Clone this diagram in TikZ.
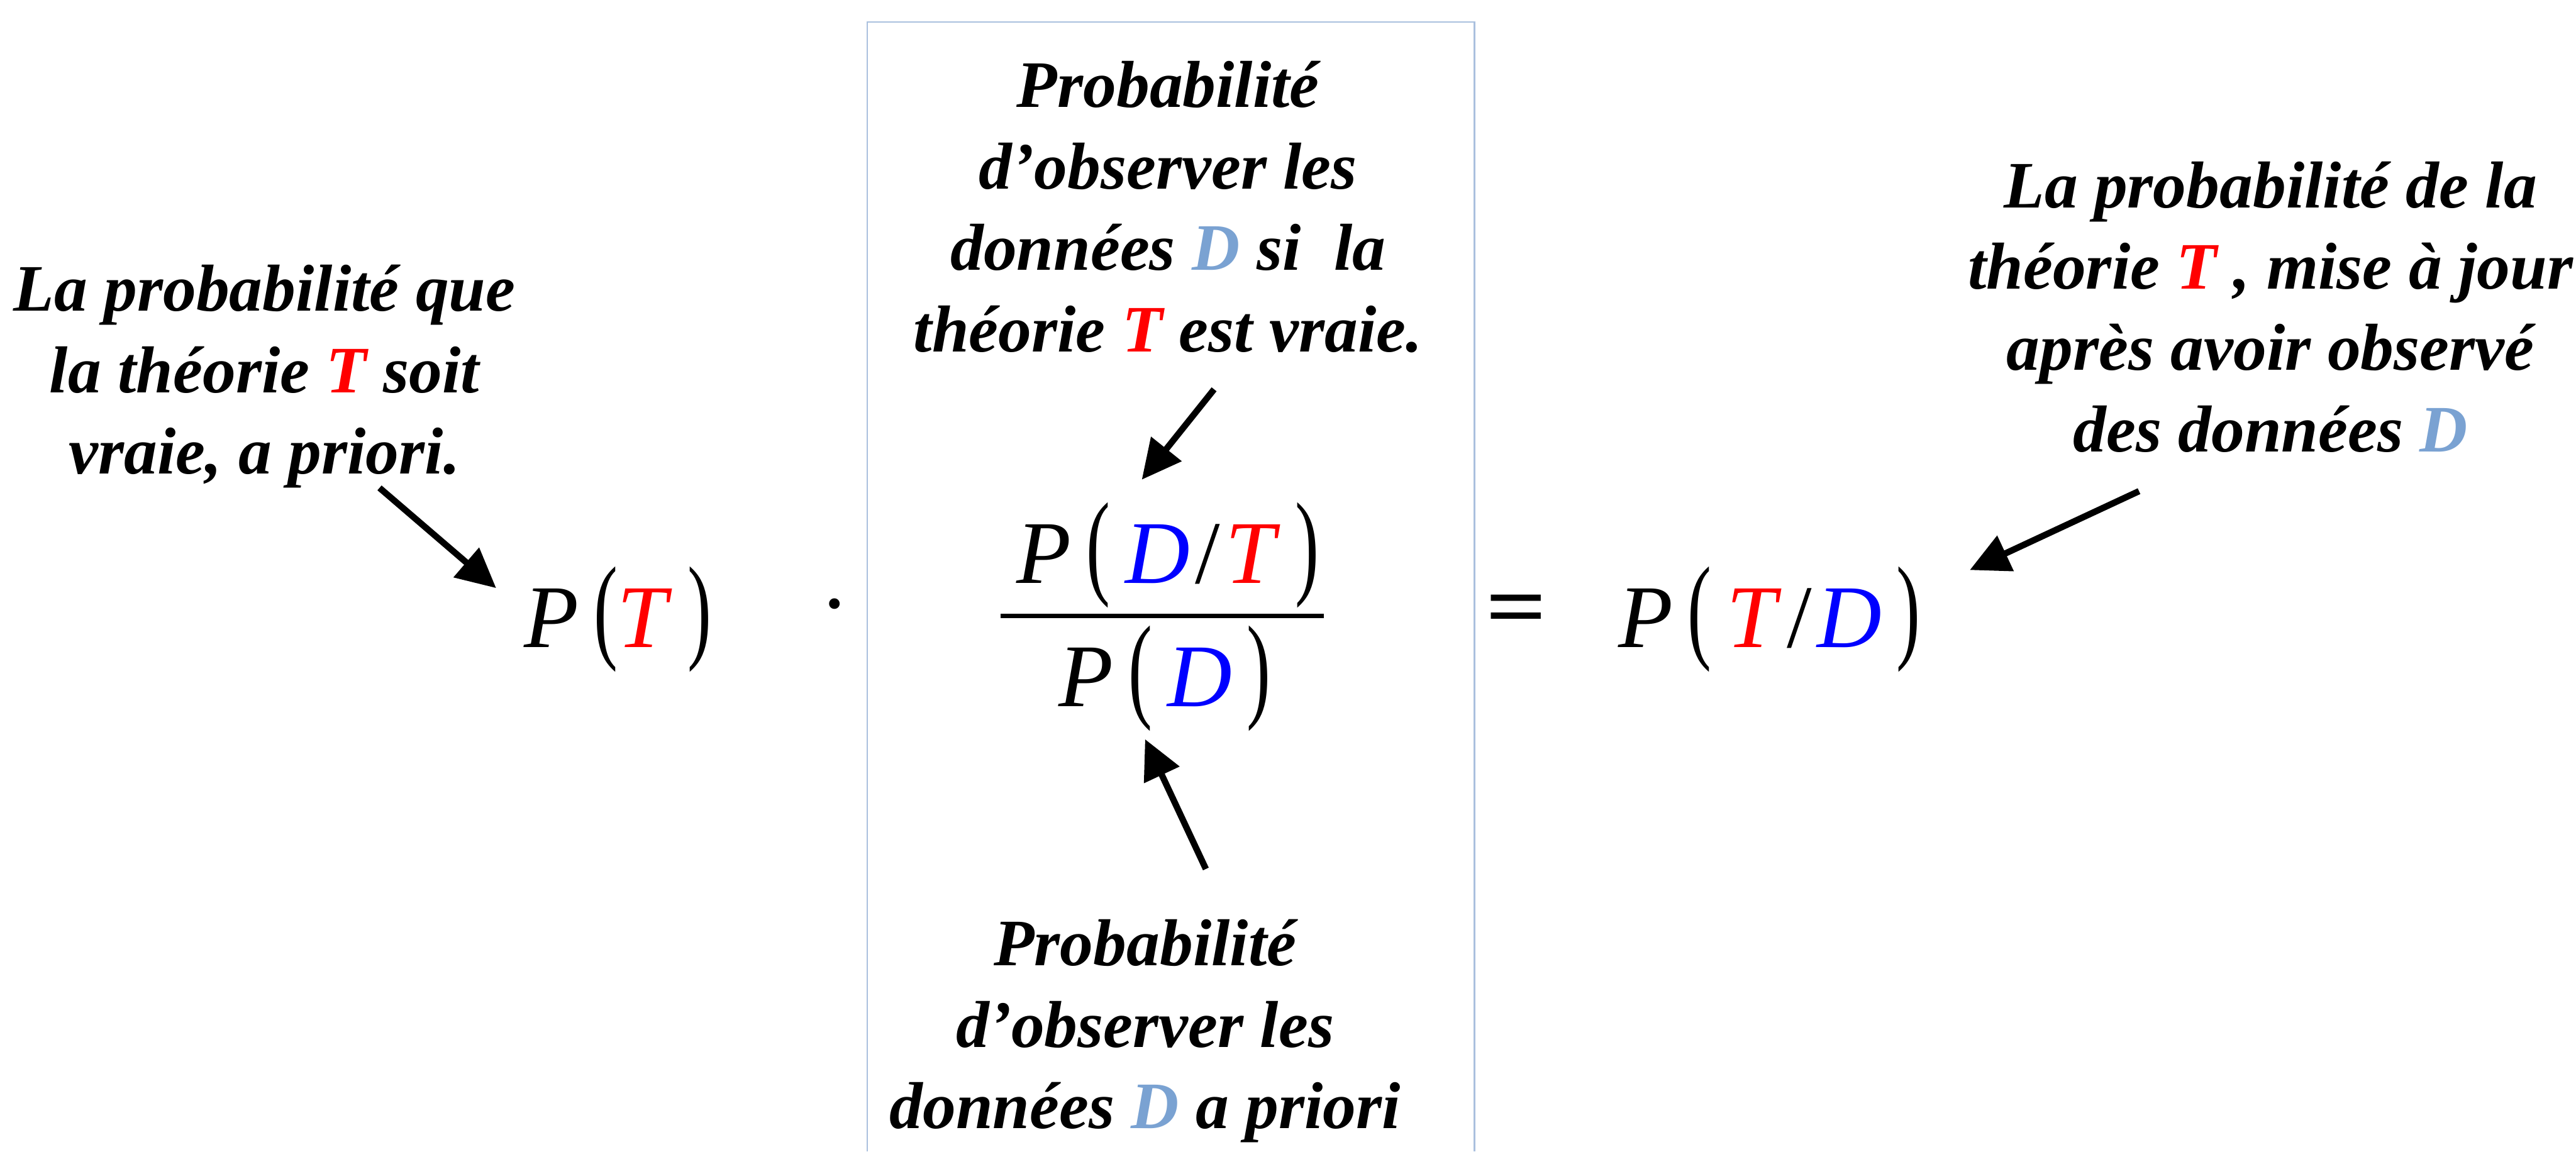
\documentclass[tikz,border=0pt]{standalone}
\usepackage{graphicx}
\usepackage{fontspec}
\setmainfont{Liberation Serif}
\usetikzlibrary{arrows.meta}
\definecolor{tred}{RGB}{255,0,0}
\definecolor{dblue}{RGB}{0,0,255}
\definecolor{lblue}{RGB}{122,162,210}
\definecolor{boxc}{RGB}{170,192,222}
\newcommand{\tT}{\textcolor{tred}{T}}
\newcommand{\dD}{\textcolor{lblue}{D}}
\newcommand{\pL}{\scalebox{0.8}[1.3]{(}}
\newcommand{\pR}{\scalebox{0.8}[1.3]{)}}
\newcommand{\mT}{\textcolor{tred}{\textit{T}}}
\newcommand{\mD}{\textcolor{dblue}{\textit{D}}}
\newcommand{\sls}{\hspace{0.06em}/\hspace{0.06em}}
\begin{document}
\begin{tikzpicture}[x=0.02cm,y=-0.02cm,
  txt/.style={font=\fontsize{23}{28.2}\selectfont\bfseries\itshape, align=center, inner sep=0pt, anchor=base},
  mth/.style={font=\fontsize{31}{36}\selectfont, inner sep=0pt},
  arr/.style={line width=2.2pt, -{Triangle[length=0.48cm,width=0.46cm]}},
  boxline/.style={draw=boxc, line width=0.5pt}]
\useasboundingbox (0,0) rectangle (1568,701);
\draw[boxline] (528,701) -- (528,13.5) -- (897.5,13.5) -- (897.5,701);
\node[txt] (tL) at (161,288.5) {La probabilité que\\la théorie \tT{} soit\\vraie, a priori.};
\node[txt] (tM) at (711,214) {Probabilité\\d’observer les\\données \dD{} si~ la\\théorie \tT{} est vraie.};
\node[txt] (tB) at (697,687) {Probabilité\\d’observer les\\données \dD{} a priori};
\node[txt] (tR) at (1382,275) {La probabilité de la\\théorie \tT{} , mise à jour\\après avoir observé\\des données \dD};
\node[mth] (pT) at (376,377) {\textit{P}\,\pL\mT\,\pR};
\node[mth] (dot) at (508,375) {·};
\node[mth] (num) at (711,338) {\textit{P}\,\pL\,\mD\sls\mT\,\pR};
\draw[line width=1.5pt] (609,375) -- (806,375);
\node[mth] (den) at (709,413) {\textit{P}\,\pL\,\mD\,\pR};
\node[mth] (eq) at (923,375) {\scalebox{1.2}[1]{\textbf{=}}};
\node[mth] (pTD) at (1077,377) {\textit{P}\,\pL\,\mT\sls\mD\,\pR};
\coordinate (a1s) at (231,297); \coordinate (a1e) at (302,358);
\coordinate (a2s) at (739,237); \coordinate (a2e) at (695,292);
\coordinate (a3s) at (734,529); \coordinate (a3e) at (697,450);
\coordinate (a4s) at (1302,299); \coordinate (a4e) at (1199,347);
\draw[arr] (a1s) -- (a1e);
\draw[arr] (a2s) -- (a2e);
\draw[arr] (a3s) -- (a3e);
\draw[arr] (a4s) -- (a4e);
\end{tikzpicture}
\end{document}
